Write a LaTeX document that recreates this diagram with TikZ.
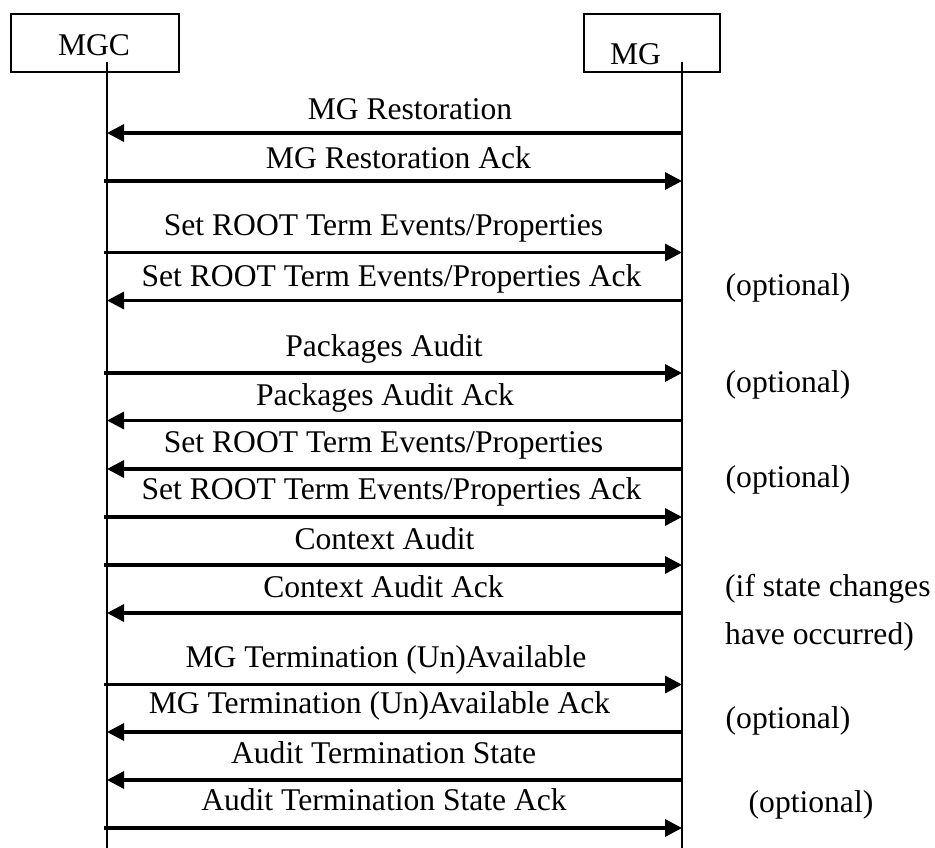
\documentclass[tikz,border=0pt]{standalone}
\usepackage{fontspec}
\setmainfont{Liberation Serif}
\usetikzlibrary{arrows.meta}
\begin{document}
\begin{tikzpicture}[x=1pt,y=-1pt,
  entity/.style={draw,line width=1.2pt,minimum height=58pt,inner sep=0pt},
  lifeline/.style={line width=1.8pt},
  msg/.style={line width=3.3pt,-{Triangle[length=17pt,width=17pt]}},
  lbl/.style={font=\fontsize{31.6}{36}\selectfont,inner sep=0pt,anchor=base},
  note/.style={font=\fontsize{31.6}{36}\selectfont,inner sep=0pt,anchor=base}]
\useasboundingbox (0,0) rectangle (935,848);

% participants
\node[entity,minimum width=168pt] (mgc) at (95,43) {};
\node[lbl] (mgct) at (94,56) {MGC};
\node[entity,minimum width=136pt] (mg) at (652,43) {};
\node[lbl] (mgt) at (635.5,65) {MG};

% lifelines
\coordinate (mgctop) at (107,62);
\coordinate (mgcbot) at (107,848);
\coordinate (mgtop) at (682,62);
\coordinate (mgbot) at (682,848);
\draw[lifeline] (mgctop) -- (mgcbot);
\draw[lifeline] (mgtop) -- (mgbot);

% messages: index / arrow y / direction (l = to MGC, r = to MG) / label x / label baseline / text
\foreach \n/\y/\d/\lx/\ly/\t in {
  1/133/l/410/119.5/{MG Restoration},
  2/181/r/398.5/168.5/{MG Restoration Ack},
  3/252.5/r/383.5/235.5/{Set ROOT Term Events/Properties},
  4/300.5/l/391.5/286/{Set ROOT Term Events/Properties Ack},
  5/373/r/384/356/{Packages Audit},
  6/420.5/l/385/405/{Packages Audit Ack},
  7/469/l/383.5/452/{Set ROOT Term Events/Properties},
  8/517/r/391.5/499.5/{Set ROOT Term Events/Properties Ack},
  9/565/r/384.5/549/{Context Audit},
  10/613/l/383.5/597/{Context Audit Ack},
  11/684.5/r/386/667/{MG Termination (Un)Available},
  12/732/l/379.5/713.5/{MG Termination (Un)Available Ack},
  13/780/l/383.6/763.5/{Audit Termination State},
  14/828/r/384/810/{Audit Termination State Ack}}{
  \coordinate (a\n) at (104,\y);
  \coordinate (b\n) at (682,\y);
  \coordinate (c\n) at (107,\y);
  \if\d l
    \draw[msg] (b\n) -- (c\n);
  \else
    \draw[msg] (a\n) -- (b\n);
  \fi
  \node[lbl] (t\n) at (\lx,\ly) {\t};
}

% side notes
\node[note] (o1) at (788,295) {(optional)};
\node[note] (o2) at (788,392) {(optional)};
\node[note] (o3) at (788,487) {(optional)};
\node[note,anchor=base west] (o4) at (725,596) {(if state changes};
\node[note,anchor=base west] (o5) at (725,644) {have occurred)};
\node[note] (o6) at (788,728) {(optional)};
\node[note] (o7) at (811,812) {(optional)};
\end{tikzpicture}
\end{document}
